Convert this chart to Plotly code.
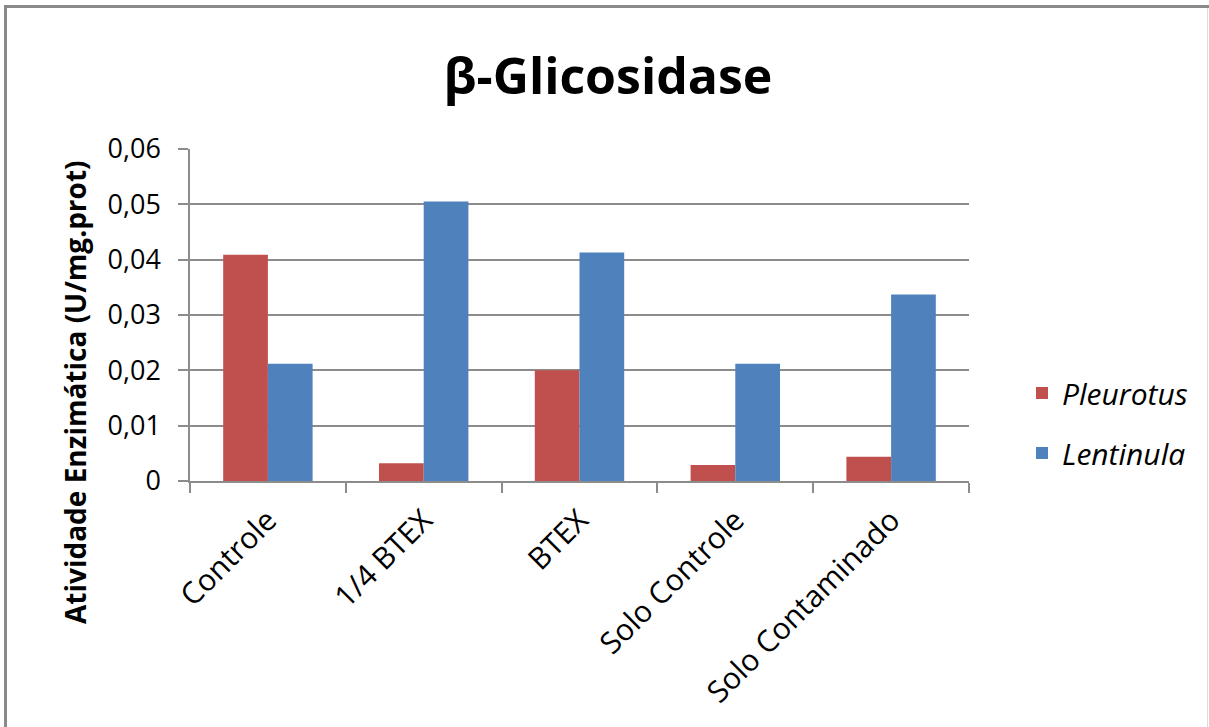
import plotly.graph_objects as go

# Enzyme activity per treatment
categorias = ["Controle", "1/4 BTEX", "BTEX", "Solo Controle", "Solo Contaminado"]
pleurotus = [0.0409, 0.0032, 0.0200, 0.0029, 0.0044]
lentinula = [0.0212, 0.0505, 0.0413, 0.0212, 0.0337]
y_ticks = [0, 0.01, 0.02, 0.03, 0.04, 0.05, 0.06]
y_tick_text = ["0", "0,01", "0,02", "0,03", "0,04", "0,05", "0,06"]

W, H = 1209, 727
L, R, T, B = 190, 969, 149, 481  # plot area in pixels

FONT = "'Open Sans', Lato, sans-serif"
GRID = "#8c8c8c"


def px_x(x):
    return (x - L) / (R - L)


def px_y(y):
    return (B - y) / (B - T)


fig = go.Figure()
fig.add_trace(go.Bar(
    x=categorias, y=pleurotus, name="<i>Pleurotus</i>",
    marker=dict(color="#C0504D", line=dict(width=0)),
    legendgroup="p",
))
fig.add_trace(go.Bar(
    x=categorias, y=lentinula, name="<i>Lentinula</i>",
    marker=dict(color="#4F81BD", line=dict(width=0)),
    legendgroup="l",
))

fig.update_layout(
    width=W, height=H,
    margin=dict(l=L, r=W - R, t=T, b=H - B, pad=0),
    paper_bgcolor="white", plot_bgcolor="white",
    barmode="group", bargap=0.426, bargroupgap=0,
    font=dict(family=FONT, color="black"),
    title=dict(
        text="<b>β-Glicosidase</b>",
        x=608 / W, xanchor="center", xref="container",
        y=1 - 76 / H, yanchor="middle", yref="container",
        font=dict(size=50, family=FONT, color="black"),
    ),
    showlegend=True,
    legend=dict(
        x=px_x(1022), xanchor="left",
        y=px_y(423), yanchor="middle",
        font=dict(size=30, family=FONT, color="black"),
        tracegroupgap=18, traceorder="grouped",
        bgcolor="rgba(0,0,0,0)",
    ),
    xaxis=dict(
        type="category", tickson="boundaries",
        ticks="outside", ticklen=10, tickcolor=GRID, tickwidth=1.5,
        showline=True, linecolor=GRID, linewidth=1.5,
        showgrid=False, tickangle=-45, ticklabelstandoff=8,
        tickfont=dict(size=30, family=FONT, color="black"),
    ),
    yaxis=dict(
        range=[0, 0.06], tickvals=y_ticks, ticktext=y_tick_text,
        ticks="outside", ticklen=10, tickcolor=GRID, tickwidth=1.5,
        showline=True, linecolor=GRID, linewidth=1.5,
        showgrid=True, gridcolor=GRID, gridwidth=1.5,
        zeroline=False, ticklabelstandoff=12,
        tickfont=dict(size=27, family=FONT, color="black"),
    ),
)

# y-axis title
fig.add_annotation(
    text="<b>Atividade Enzimática (U/mg.prot)</b>",
    x=px_x(75), y=px_y(392), xref="paper", yref="paper",
    textangle=-90, showarrow=False,
    xanchor="center", yanchor="middle",
    font=dict(size=28, family=FONT, color="black"),
)

# chart frame
fig.add_shape(type="line", xref="paper", yref="paper",
              x0=px_x(5), x1=px_x(W), y0=px_y(6.5), y1=px_y(6.5),
              line=dict(color="#8a8a8a", width=3))
fig.add_shape(type="line", xref="paper", yref="paper",
              x0=px_x(5.5), x1=px_x(5.5), y0=px_y(5), y1=px_y(H),
              line=dict(color="#8a8a8a", width=3))
fig.add_shape(type="line", xref="paper", yref="paper",
              x0=px_x(1207.5), x1=px_x(1207.5), y0=px_y(8), y1=px_y(H),
              line=dict(color="#dcdcdc", width=1))

fig.write_html("out.html")
